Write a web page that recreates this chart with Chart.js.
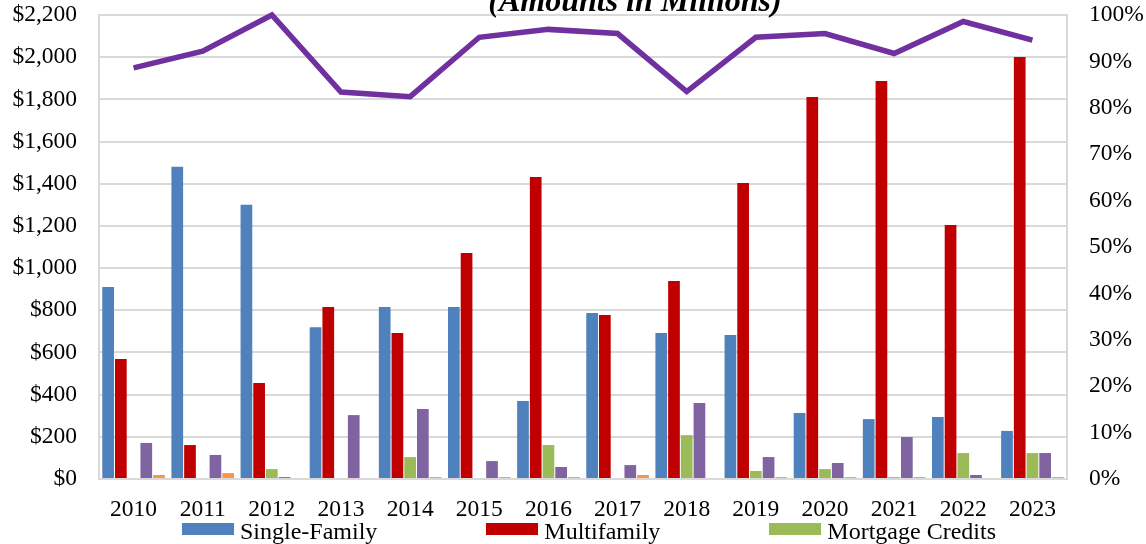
<!DOCTYPE html>
<html>
<head>
<meta charset="UTF-8">
<title>Amounts in Millions</title>
<style type="text/css">
body { margin: 0; background: #fff; overflow: hidden; }
#wrap { position: relative; width: 1146px; height: 544px; overflow: hidden; }
/* legend under the chart, html */
#legend {
	position: absolute; left: 182px; top: 519px;
	display: flex; gap: 109px; white-space: nowrap;
	font-family: 'Liberation Serif', 'Times New Roman', serif;
	font-size: 24px; line-height: 24px; color: #000;
}
#legend .item { display: flex; align-items: flex-start; }
#legend .box { display: inline-block; width: 52px; height: 12px; margin-top: 4px; margin-right: 6px; }
</style>
<script src="https://cdn.jsdelivr.net/npm/chart.js@4.4.1/dist/chart.umd.min.js"></script>
</head>
<body>
<div id="wrap">
	<canvas id="myChart" width="1146" height="544"></canvas>
	<div id="legend"></div>
</div>
<script>
	// data ($ millions / percent)
	const years = ['2010','2011','2012','2013','2014','2015','2016','2017','2018','2019','2020','2021','2022','2023'];
	const singleFamily    = [910, 1480, 1300, 720, 815, 815, 370, 787, 692, 683, 313, 284, 294, 228];
	const multifamily     = [569, 161, 455, 815, 692, 1071, 1432, 778, 939, 1403, 1811, 1887, 1204, 2001];
	const mortgageCredits = [0, 0, 47, 0, 104, 0, 161, 0, 208, 38, 47, 9, 123, 123];
	const otherPurple     = [171, 114, 9, 303, 332, 85, 57, 66, 360, 104, 76, 199, 19, 123];
	const otherOrange     = [19, 28, 0, 0, 9, 9, 9, 19, 0, 9, 9, 9, 0, 9];
	const sharePct        = [88.6, 92.2, 100, 83.4, 82.4, 95.2, 96.9, 96.0, 83.5, 95.2, 96.0, 91.7, 98.6, 94.6];
	const seriesNames = ['Single-Family', 'Multifamily', 'Mortgage Credits', 'Series 4', 'Series 5', 'Share'];
	const dollarTicks = { min: 0, max: 2200, step: 200 };
	const pctTicks = { min: 0, max: 100, step: 10 };
	const titleText = '(Amounts in Millions)';

	const font = "'Liberation Serif', 'Times New Roman', serif";
	const colors = ['#4F81BD', '#C00000', '#9BBB59', '#8064A2', '#F79646', '#7030A0'];

	// title is cropped at the top in the original
	const cutTitle = {
		id: 'cutTitle',
		afterDraw(chart) {
			const ctx = chart.ctx;
			ctx.save();
			ctx.font = 'italic bold 32px ' + font;
			ctx.fillStyle = '#000';
			ctx.textAlign = 'center';
			ctx.textBaseline = 'alphabetic';
			ctx.fillText(titleText, 635, 11);
			ctx.restore();
		}
	};

	function bar(i, data) {
		return {
			type: 'bar', label: seriesNames[i], data: data,
			backgroundColor: colors[i], borderWidth: 0,
			categoryPercentage: 0.92, barPercentage: 0.92,
			yAxisID: 'y', order: 2
		};
	}

	const ctx = document.getElementById('myChart').getContext('2d');
	const chart = new Chart(ctx, {
		data: {
			labels: years,
			datasets: [
				{
					type: 'line', label: seriesNames[5], data: sharePct,
					borderColor: colors[5], borderWidth: 5.5, pointRadius: 0,
					tension: 0, yAxisID: 'y1', order: 1, clip: false
				},
				bar(0, singleFamily),
				bar(1, multifamily),
				bar(2, mortgageCredits),
				bar(3, otherPurple),
				bar(4, otherOrange)
			]
		},
		options: {
			responsive: false,
			animation: false,
			layout: { padding: { top: 15, left: 0, right: 0, bottom: 0 } },
			plugins: {
				legend: { display: false },
				tooltip: { enabled: false }
			},
			scales: {
				x: {
					grid: { display: false },
					border: { color: '#d9d9d9', width: 2 },
					ticks: { color: '#000', font: { family: font, size: 23.5 }, padding: 9, maxRotation: 0 },
					afterFit: s => { s.height = 65; }
				},
				y: {
					position: 'left',
					min: dollarTicks.min, max: dollarTicks.max,
					grid: { color: '#d9d9d9', lineWidth: 2, drawTicks: false },
					border: { color: '#d9d9d9', width: 2 },
					ticks: {
						stepSize: dollarTicks.step, padding: 22, color: '#000',
						font: { family: font, size: 23.5 },
						callback: v => '$' + v.toLocaleString('en-US')
					},
					afterFit: s => { s.width = 99; s.paddingTop = 0; s.paddingBottom = 0; }
				},
				y1: {
					position: 'right',
					min: pctTicks.min, max: pctTicks.max,
					grid: { drawOnChartArea: false, drawTicks: false },
					border: { color: '#d9d9d9', width: 2 },
					ticks: {
						stepSize: pctTicks.step, padding: 22, color: '#000',
						font: { family: font, size: 23.5 },
						callback: v => v + '%'
					},
					afterFit: s => { s.width = 79; s.paddingTop = 0; s.paddingBottom = 0; }
				}
			}
		},
		plugins: [cutTitle]
	});

	// only the first row of the legend shows in the original
	let html = '';
	for (let i = 0; i < 3; i++) {
		html += '<div class="item"><span class="box" style="background:' + colors[i] + '"></span>' + seriesNames[i] + '</div>';
	}
	document.getElementById('legend').innerHTML = html;
</script>
</body>
</html>
